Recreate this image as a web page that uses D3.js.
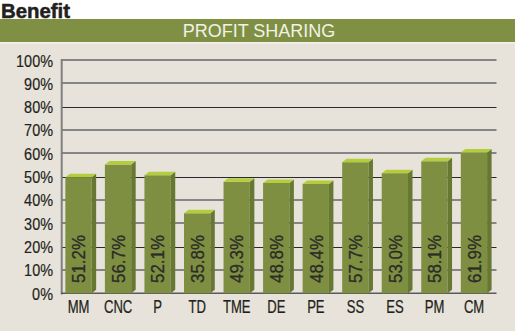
<!DOCTYPE html>
<html>
<head>
<meta charset="utf-8">
<script src="https://cdn.jsdelivr.net/npm/d3@7"></script>
<style>
  html, body { margin: 0; padding: 0; background: #ffffff; }
  svg { display: block; }
</style>
</head>
<body>
<svg id="chart" width="530" height="336"></svg>
<script>
// Profit sharing participation by segment
const categories = ["MM", "CNC", "P", "TD", "TME", "DE", "PE", "SS", "ES", "PM", "CM"];
const values = [51.2, 56.7, 52.1, 35.8, 49.3, 48.8, 48.4, 57.7, 53.0, 58.1, 61.9];
const yTicks = [0, 10, 20, 30, 40, 50, 60, 70, 80, 90, 100];
const title = "Benefit";
const subtitle = "PROFIT SHARING";

const svg = d3.select("#chart");
const sans = "'Liberation Sans', Arial, Helvetica, sans-serif";
const ink = "#231f20";

// page title
svg.append("text")
  .attr("transform", "translate(1,17.9) scale(1.04,1)")
  .attr("font-family", sans)
  .attr("font-weight", "bold")
  .attr("font-size", 19.6)
  .attr("fill", ink)
  .attr("stroke", ink).attr("stroke-width", 0.5)
  .text(title);

// panel + header band
svg.append("rect").attr("x", 0).attr("y", 42).attr("width", 515).attr("height", 289).attr("fill", "#e7e3da");
svg.append("rect").attr("x", 0).attr("y", 42).attr("width", 515).attr("height", 1.5).attr("fill", "#f3f1ea");
svg.append("rect").attr("x", 0).attr("y", 19).attr("width", 515).attr("height", 23).attr("fill", "#7f9045");
svg.append("text")
  .attr("x", 259).attr("y", 36.6)
  .attr("text-anchor", "middle")
  .attr("font-family", sans)
  .attr("font-size", 18)
  .attr("fill", "#f1f2e4")
  .text(subtitle);

// scales
const x = d3.scaleBand().domain(categories).range([61, 496]).paddingInner(0).paddingOuter(0);
const y = d3.scaleLinear().domain([0, 100]).range([293.3, 60]);

// gridlines (every third line renders darker)
const dark = d => d % 30 === 20;
svg.append("g").selectAll("line")
  .data(yTicks.filter(t => t > 0))
  .join("line")
  .attr("x1", 61).attr("x2", 496.5)
  .attr("y1", d => Math.round(y(d)) + (dark(d) ? 0.5 : 0))
  .attr("y2", d => Math.round(y(d)) + (dark(d) ? 0.5 : 0))
  .attr("stroke", d => dark(d) ? "#2a2a2a" : "#858585")
  .attr("stroke-width", d => dark(d) ? 1.2 : 2);

// y axis labels (condensed by horizontal scaling)
const yAxis = d3.axisLeft(y).tickValues(yTicks).tickFormat(d => d + "%").tickSize(0).tickPadding(0);
const ya = svg.append("g").attr("transform", "translate(53,0)").call(yAxis);
ya.select(".domain").remove();
ya.selectAll(".tick text")
  .attr("x", null).attr("dy", null)
  .attr("transform", "translate(0,6) scale(0.86,1)")
  .attr("text-anchor", "end")
  .attr("font-family", sans)
  .attr("font-size", 16.8)
  .attr("fill", ink)
  .attr("stroke", ink).attr("stroke-width", 0.2);

svg.append("line").attr("x1", 61.7).attr("x2", 61.7).attr("y1", 59).attr("y2", 294.5)
  .attr("stroke", "#7f7f7f").attr("stroke-width", 2);
svg.append("line").attr("x1", 61).attr("x2", 496.5).attr("y1", 293.3).attr("y2", 293.3)
  .attr("stroke", "#5a5a5a").attr("stroke-width", 1.6);

// 3D bars
const bw = x.bandwidth();
const frontOff = bw * 0.11, frontW = bw * 0.665;
const dx = 4.5, dy = 3.5;
const y0 = y(0);

const bars = svg.append("g").selectAll("g")
  .data(categories.map((c, i) => ({ c, v: values[i] })))
  .join("g");

bars.each(function(d) {
  const g = d3.select(this);
  const fx = x(d.c) + frontOff;
  const ft = y(d.v) + dy;
  // front face
  g.append("rect")
    .attr("x", fx).attr("y", ft).attr("width", frontW).attr("height", y0 - ft)
    .attr("fill", "#7e8f42");
  // side face
  g.append("path")
    .attr("d", `M${fx + frontW},${ft} L${fx + frontW + dx},${ft - dy} L${fx + frontW + dx},${y0 - dy} L${fx + frontW},${y0} Z`)
    .attr("fill", "#677832");
  // top face
  g.append("path")
    .attr("d", `M${fx},${ft} L${fx + dx},${ft - dy} L${fx + frontW + dx},${ft - dy} L${fx + frontW},${ft} Z`)
    .attr("fill", "#b4cd3c");
  // value label
  const cx = fx + frontW / 2;
  g.append("text")
    .attr("transform", `translate(${cx + 6.8},283) rotate(-90) scale(0.89,1)`)
    .attr("font-family", sans)
    .attr("font-size", 19)
    .attr("fill", "#2b2b28")
    .attr("stroke", "#2b2b28").attr("stroke-width", 0.3)
    .text(d.v.toFixed(1) + "%");
});

// category labels
const xa = svg.append("g")
  .call(d3.axisBottom(x.copy().range([61 - bw * 0.055, 496 - bw * 0.055])).tickSize(0).tickPadding(0));
xa.select(".domain").remove();
xa.selectAll(".tick text")
  .attr("y", null).attr("dy", null)
  .attr("transform", "translate(0,312.7) scale(0.74,1)")
  .attr("font-family", sans)
  .attr("font-size", 17.7)
  .attr("fill", ink)
  .attr("stroke", ink).attr("stroke-width", 0.25);
</script>
</body>
</html>
